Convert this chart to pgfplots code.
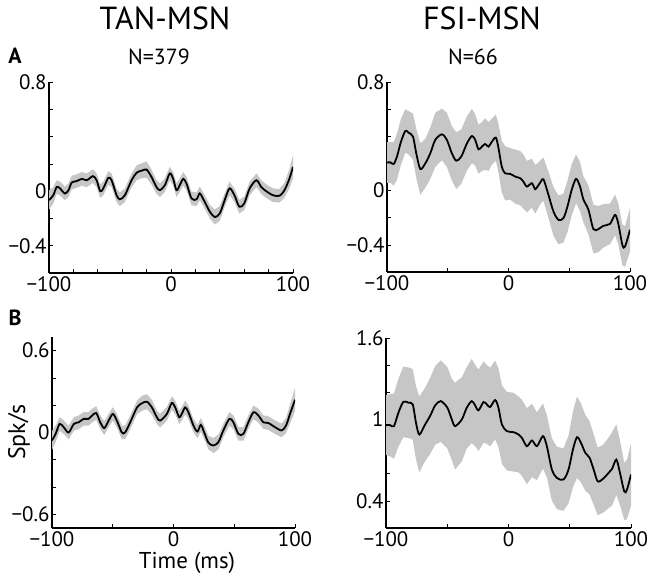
\documentclass[border=0pt]{standalone}
\usepackage{pgfplots}
\pgfplotsset{compat=1.18}
\usepackage{pgfplotstable}
\usepackage{fontspec}
\setmainfont{PT Sans}
\definecolor{bandgray}{RGB}{198,198,198}

\pgfplotstableread{
t m e
-100 -0.066 0.07
-96.5 -0.03 0.06
-93.7 0.03 0.05
-91 0.02 0.05
-87 -0.017 0.05
-84 0.007 0.05
-81.4 0.063 0.05
-77.4 0.073 0.05
-73 0.09 0.05
-69 0.08 0.05
-64 0.11 0.05
-61 0.08 0.05
-58 0 0.05
-55.5 0.02 0.05
-51.4 0.097 0.05
-48.7 0.08 0.05
-44.6 -0.03 0.05
-42 -0.06 0.05
-37.8 -0.03 0.05
-32.3 0.08 0.05
-28 0.136 0.055
-24 0.15 0.055
-20 0.158 0.06
-16 0.104 0.055
-11.9 0.03 0.05
-9 0.007 0.05
-5 0.044 0.05
-1 0.13 0.05
1.8 0.09 0.05
4.5 0.007 0.05
7.2 0.044 0.05
10 0.09 0.05
12.7 0.056 0.05
16.8 -0.053 0.05
20.9 -0.06 0.05
23.6 -0.017 0.05
26.9 -0.066 0.05
31.8 -0.15 0.05
35.9 -0.19 0.055
40 -0.163 0.055
44 -0.066 0.05
48 0.02 0.05
52 -0.03 0.05
56 -0.114 0.05
60 -0.09 0.05
64.5 0.02 0.05
70 0.08 0.05
74 0.03 0.05
78 0 0.05
83.6 -0.03 0.05
89 -0.034 0.05
93 0.007 0.055
97 0.09 0.07
100 0.177 0.085
}\tanA

\pgfplotstableread{
t m e
-100 0.206 0.15
-97.3 0.208 0.15
-94.5 0.196 0.16
-91.8 0.25 0.17
-88.5 0.36 0.17
-84.9 0.439 0.16
-82.2 0.426 0.16
-78.6 0.397 0.17
-75.9 0.274 0.18
-72.6 0.159 0.19
-68.5 0.2 0.18
-64.4 0.274 0.19
-60.3 0.373 0.2
-54.8 0.414 0.19
-50.7 0.373 0.2
-46.6 0.274 0.2
-43 0.22 0.21
-38.9 0.25 0.2
-34.2 0.348 0.2
-30.1 0.402 0.2
-27.4 0.373 0.19
-24.7 0.304 0.18
-21.9 0.324 0.18
-19.2 0.343 0.19
-16.4 0.324 0.18
-13.7 0.36 0.17
-10.4 0.39 0.17
-8.2 0.311 0.18
-5.5 0.176 0.19
-2.7 0.127 0.2
1.4 0.123 0.19
5.5 0.103 0.2
9.6 0.091 0.2
12.3 0.066 0.2
15.1 0.029 0.19
19.2 0.054 0.18
21.9 0.01 0.18
23.8 0.029 0.17
26.6 0.066 0.16
28.8 0.083 0.16
32.9 -0.032 0.17
37 -0.154 0.18
41.1 -0.216 0.18
45.2 -0.203 0.18
48.5 -0.118 0.19
52 0.005 0.19
55.6 0.086 0.18
58.9 0.029 0.18
61.6 -0.064 0.17
65.8 -0.142 0.18
69.9 -0.284 0.18
74 -0.284 0.17
78 -0.26 0.16
83.6 -0.245 0.15
87.7 -0.179 0.15
90.4 -0.245 0.15
93.7 -0.4 0.15
95.9 -0.412 0.15
100 -0.289 0.16
}\fsiA

\pgfplotstableread{
t m e
-100 -0.058 0.07
-97 -0.01 0.06
-93.7 0.063 0.05
-90.4 0.039 0.05
-86.3 0 0.05
-82 0.063 0.05
-78 0.075 0.05
-74 0.1 0.05
-70 0.1 0.05
-67 0.124 0.05
-63.6 0.143 0.05
-60.3 0.075 0.05
-57 0.032 0.05
-53.4 0.087 0.05
-49.9 0.136 0.05
-46.6 0.087 0.05
-42.5 0 0.05
-39.7 0.002 0.05
-35.6 0.075 0.05
-30 0.184 0.05
-26 0.214 0.055
-21.9 0.226 0.055
-17.8 0.184 0.055
-13.7 0.112 0.05
-11 0.087 0.05
-5.5 0.136 0.05
-1.4 0.216 0.05
1.4 0.184 0.05
4.7 0.112 0.05
6.8 0.136 0.05
9.6 0.184 0.05
12.3 0.148 0.05
16.4 0.051 0.05
19.7 0.007 0.05
22.5 0.056 0.05
25.2 0.002 0.05
28.8 -0.075 0.05
32.9 -0.095 0.055
37 -0.07 0.055
41 0.015 0.05
46 0.1 0.05
49.3 0.075 0.05
53.4 -0.01 0.05
57.5 -0.01 0.05
61.6 0.075 0.05
65.8 0.148 0.05
69.9 0.124 0.05
74 0.075 0.05
78 0.07 0.05
83.6 0.039 0.05
89 0.015 0.05
92.6 0.051 0.055
95.9 0.136 0.07
100 0.24 0.085
}\tanB

\pgfplotstableread{
t m e
-100 0.958 0.22
-96.7 0.958 0.23
-93.5 0.951 0.24
-89.9 1.049 0.25
-85.8 1.13 0.26
-81.7 1.123 0.26
-78.2 1.111 0.26
-75.5 0.975 0.27
-72.8 0.889 0.28
-68.1 0.963 0.27
-64 1.025 0.28
-59.9 1.103 0.29
-55.3 1.135 0.3
-49.9 1.086 0.3
-46.3 1.0 0.3
-43.6 0.951 0.32
-38.1 1.0 0.31
-34.1 1.086 0.3
-30 1.135 0.31
-27.2 1.103 0.3
-24.5 1.067 0.3
-20.4 1.128 0.3
-17.7 1.111 0.29
-15 1.091 0.29
-10.9 1.143 0.29
-8.2 1.086 0.29
-5.4 0.963 0.29
-1.4 0.914 0.29
4.1 0.906 0.29
8.2 0.889 0.28
10.9 0.865 0.28
15 0.803 0.28
19.1 0.845 0.27
23.2 0.803 0.25
28.1 0.877 0.24
31.3 0.803 0.23
35.4 0.631 0.23
39.5 0.569 0.23
44.9 0.557 0.23
49 0.631 0.25
52.6 0.778 0.28
55.9 0.869 0.3
59.1 0.828 0.29
62.7 0.754 0.28
66.2 0.717 0.27
69.5 0.631 0.26
72.8 0.544 0.25
77.1 0.562 0.25
81.7 0.606 0.26
84.5 0.635 0.27
88 0.704 0.26
90.7 0.618 0.24
94.5 0.47 0.21
96.7 0.483 0.22
100 0.594 0.23
}\fsiB

\pgfplotsset{
  myax/.style={
    scale only axis,
    axis x line*=bottom, axis y line*=left,
    axis line style={-, line width=1.3bp},
    xtick pos=left, ytick pos=left,
    tick align=inside,
    major tick length=4bp,
    every tick/.style={black, line width=0.7bp},
    xmin=-100, xmax=100,
    tick label style={font=\fontsize{21}{21}\selectfont},
    yticklabel style={xshift=1bp},
  },
  xA/.style={xtick={-100,-80,-60,-40,-20,0,20,40,60,80,100},
    xticklabels={−100,,,,,0,,,,,100}},
  xB/.style={xtick={-100,-50,0,50,100}, xticklabels={−100,,0,,100}},
}

\begin{document}
\begin{tikzpicture}
\useasboundingbox (0,0) rectangle (661bp,579bp);

% A left
\begin{axis}[myax, xA, at={(49bp,306bp)}, anchor=south west, width=244bp, height=191bp,
  ymin=-0.6, ymax=0.8,
  ytick={-0.4,-0.2,0,0.2,0.4,0.6,0.8}, yticklabels={−0.4,,0,,,,0.8}]
\addplot[draw=none, stack plots=y, forget plot] table[x=t, y expr=\thisrow{m}-\thisrow{e}] {\tanA};
\addplot[fill=bandgray, draw=none, stack plots=y] table[x=t, y expr=2*\thisrow{e}] {\tanA} \closedcycle;
\addplot[black, line width=1.8bp, smooth, stack plots=false] table[x=t, y=m] {\tanA};
\end{axis}

% A right
\begin{axis}[myax, xB, at={(387bp,307bp)}, anchor=south west, width=243bp, height=190bp,
  ymin=-0.6, ymax=0.8,
  ytick={-0.4,-0.2,0,0.2,0.4,0.6,0.8}, yticklabels={−0.4,,0,,,,0.8}]
\addplot[draw=none, stack plots=y, forget plot] table[x=t, y expr=\thisrow{m}-\thisrow{e}] {\fsiA};
\addplot[fill=bandgray, draw=none, stack plots=y] table[x=t, y expr=2*\thisrow{e}] {\fsiA} \closedcycle;
\addplot[black, line width=1.8bp, smooth, stack plots=false] table[x=t, y=m] {\fsiA};
\end{axis}

% B left
\begin{axis}[myax, xB, at={(52bp,51bp)}, anchor=south west, width=243bp, height=191bp,
  ymin=-0.7, ymax=0.7,
  ytick={-0.6,-0.4,-0.2,0,0.2,0.4,0.6}, yticklabels={−0.6,,,0,,,0.6}]
\addplot[draw=none, stack plots=y, forget plot] table[x=t, y expr=\thisrow{m}-\thisrow{e}] {\tanB};
\addplot[fill=bandgray, draw=none, stack plots=y] table[x=t, y expr=2*\thisrow{e}] {\tanB} \closedcycle;
\addplot[black, line width=1.8bp, smooth, stack plots=false] table[x=t, y=m] {\tanB};
\end{axis}

% B right
\begin{axis}[myax, xB, at={(386bp,51bp)}, anchor=south west, width=245bp, height=190bp,
  ymin=0.2, ymax=1.6,
  ytick={0.4,0.6,0.8,1,1.2,1.4,1.6}, yticklabels={0.4,,,1,,,1.6}]
\addplot[draw=none, stack plots=y, forget plot] table[x=t, y expr=\thisrow{m}-\thisrow{e}] {\fsiB};
\addplot[fill=bandgray, draw=none, stack plots=y] table[x=t, y expr=2*\thisrow{e}] {\fsiB} \closedcycle;
\addplot[black, line width=1.8bp, smooth, stack plots=false] table[x=t, y=m] {\fsiB};
\end{axis}

% texts
\node[anchor=base, font=\fontsize{32}{32}\selectfont, inner sep=0] at (165bp,549bp) {TAN-MSN};
\node[anchor=base, font=\fontsize{32}{32}\selectfont, inner sep=0] at (482bp,549bp) {FSI-MSN};
\node[anchor=base, font=\fontsize{22}{22}\selectfont, inner sep=0] at (159bp,514bp) {N=379};
\node[anchor=base, font=\fontsize{22}{22}\selectfont, inner sep=0] at (473bp,514bp) {N=66};
\node[anchor=base, font=\bfseries\fontsize{22}{22}\selectfont, inner sep=0] at (15bp,515bp) {A};
\node[anchor=base, font=\bfseries\fontsize{22}{22}\selectfont, inner sep=0] at (15bp,253bp) {B};
\node[rotate=90, font=\fontsize{24}{24}\selectfont, inner sep=0] at (19bp,147bp) {Spk/s};
\node[anchor=base, font=\fontsize{23}{23}\selectfont, inner sep=0] at (187bp,11bp) {Time (ms)};
\end{tikzpicture}
\end{document}
